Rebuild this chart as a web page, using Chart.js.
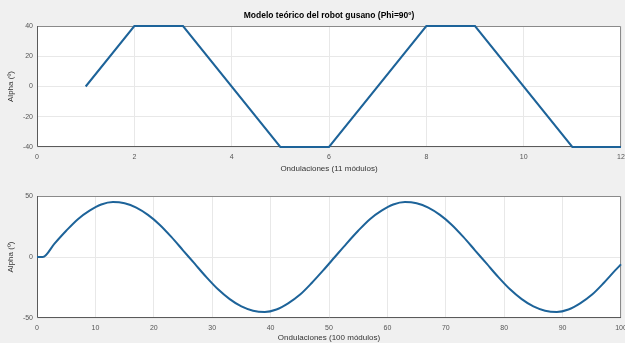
<!DOCTYPE html>
<html>
<head>
<meta charset="utf-8">
<script src="https://cdn.jsdelivr.net/npm/chart.js@4/dist/chart.umd.min.js"></script>
<style>
  html, body { margin: 0; padding: 0; background: #f0f0f0; }
  #wrap { position: relative; width: 625px; height: 343px; overflow: hidden; }
  .box { position: absolute; left: 0; width: 625px; }
</style>
</head>
<body>
<div id="wrap">
  <div class="box" style="top:0;height:180px"><canvas id="top"></canvas></div>
  <div class="box" style="top:180px;height:163px"><canvas id="bottom"></canvas></div>
</div>
<script>
// Top plot: trapezoidal model (11 modules)
const topX = [1, 2, 3, 5, 6, 8, 9, 11, 12];
const topAlpha = [0, 40, 40, -40, -40, 40, 40, -40, -40];
const topXTicks = [0, 2, 4, 6, 8, 10, 12];
const topYTicks = [-40, -20, 0, 20, 40];

// Bottom plot: smooth wave (100 modules)
const botX = [0, 1, 3, 5, 7, 9, 11, 13, 15, 17, 19, 21, 23, 25, 27, 29, 31, 33, 35, 37, 39, 41, 43, 45, 47, 49,
  51, 53, 55, 57, 59, 61, 63, 65, 67, 69, 71, 73, 75, 77, 79, 81, 83, 85, 87, 89, 91, 93, 95, 97, 99, 100];
const botAlpha = [0, 0, 11, 21.5, 31, 38, 43, 45, 44, 40.5, 34.5, 26.5, 16.5, 5.5, -5.5, -16.5, -26.5, -34.5, -40.5, -44, -45, -43, -38, -31, -21.5, -11,
  0, 11, 21.5, 31, 38, 43, 45, 44, 40.5, 34.5, 26.5, 16.5, 5.5, -5.5, -16.5, -26.5, -34.5, -40.5, -44, -45, -43, -38, -31, -21.5, -11, -6];
const botXTicks = [0, 10, 20, 30, 40, 50, 60, 70, 80, 90, 100];
const botYTicks = [-50, 0, 50];

const FONT = 'Liberation Sans, Arial, sans-serif';
const LINE = '#1d6399';

// draws the MATLAB style box around the plot area, and the title centred over it
const boxPlugin = {
    id: 'matlabBox',
    beforeDraw(chart) {
        const { ctx, chartArea: a } = chart;
        ctx.save();
        ctx.fillStyle = '#ffffff';
        ctx.fillRect(a.left, a.top, a.right - a.left, a.bottom - a.top);
        ctx.restore();
    },
    beforeDatasetsDraw(chart) {
        const { ctx, chartArea: a } = chart;
        ctx.save();
        ctx.lineWidth = 1;
        ctx.strokeStyle = '#8a8a8a';
        ctx.beginPath();
        ctx.moveTo(a.left + 0.5, a.top + 0.5);
        ctx.lineTo(a.right - 0.5, a.top + 0.5);
        ctx.lineTo(a.right - 0.5, a.bottom - 0.5);
        ctx.stroke();
        ctx.strokeStyle = '#5a5a5a';
        ctx.beginPath();
        ctx.moveTo(a.left + 0.5, a.top);
        ctx.lineTo(a.left + 0.5, a.bottom - 0.5);
        ctx.lineTo(a.right, a.bottom - 0.5);
        ctx.stroke();
        ctx.restore();
    },
    afterDraw(chart, args, opts) {
        if (!opts.text) return;
        const { ctx, chartArea: a } = chart;
        ctx.save();
        ctx.fillStyle = '#000';
        ctx.font = 'bold 8.5px ' + FONT;
        ctx.textAlign = 'center';
        ctx.textBaseline = 'middle';
        ctx.fillText(opts.text, (a.left + a.right) / 2, a.top - 10);
        ctx.restore();
    }
};

function makePlot(id, xs, ys, xTicks, yTicks, opts) {
    const xMin = xTicks[0], xMax = xTicks[xTicks.length - 1];
    const yMin = yTicks[0], yMax = yTicks[yTicks.length - 1];
    return new Chart(document.getElementById(id), {
        type: 'line',
        data: {
            datasets: [{
                data: xs.map((x, i) => ({ x: x, y: ys[i] })),
                borderColor: LINE,
                borderWidth: 2,
                pointRadius: 0,
                clip: false,
                tension: opts.tension,
                cubicInterpolationMode: opts.tension ? 'monotone' : 'default',
                fill: false
            }]
        },
        options: {
            responsive: true,
            maintainAspectRatio: false,
            animation: false,
            layout: { padding: { left: 0, right: 4, top: opts.padTop, bottom: opts.padBottom } },
            plugins: {
                legend: { display: false },
                tooltip: { enabled: false },
                title: { display: false },
                matlabBox: { text: opts.title }
            },
            scales: {
                x: {
                    type: 'linear',
                    min: xMin,
                    max: xMax,
                    afterBuildTicks: s => { s.ticks = xTicks.map(v => ({ value: v })); },
                    afterFit: s => { s.height = opts.xHeight; s.paddingLeft = 0; s.paddingRight = 0; },
                    grid: { color: '#e8e8e8', tickLength: 0, drawTicks: false },
                    border: { display: false },
                    ticks: { color: '#555', font: { family: FONT, size: 7 }, padding: 6, maxRotation: 0 },
                    title: {
                        display: true,
                        text: opts.xTitle,
                        color: '#333',
                        font: { family: FONT, size: 8 },
                        padding: { top: 2, bottom: 0 }
                    }
                },
                y: {
                    type: 'linear',
                    min: yMin,
                    max: yMax,
                    afterBuildTicks: s => { s.ticks = yTicks.map(v => ({ value: v })); },
                    afterFit: s => { s.width = 37; s.paddingTop = 0; s.paddingBottom = 0; },
                    grid: { color: '#e8e8e8', tickLength: 0, drawTicks: false },
                    border: { display: false },
                    ticks: { color: '#555', font: { family: FONT, size: 7 }, padding: 4 },
                    title: {
                        display: true,
                        text: 'Alpha (º)',
                        color: '#333',
                        font: { family: FONT, size: 8 },
                        padding: { top: 6, bottom: 2 }
                    }
                }
            }
        },
        plugins: [boxPlugin]
    });
}

makePlot('top', topX, topAlpha, topXTicks, topYTicks, {
    title: 'Modelo teórico del robot gusano (Phi=90º)',
    xTitle: 'Ondulaciones (11 módulos)',
    padTop: 26,
    padBottom: 6,
    xHeight: 27,
    tension: 0
});

makePlot('bottom', botX, botAlpha, botXTicks, botYTicks, {
    title: '',
    xTitle: 'Ondulaciones (100 módulos)',
    padTop: 16,
    padBottom: 0,
    xHeight: 25,
    tension: 0.4
});
</script>
</body>
</html>
